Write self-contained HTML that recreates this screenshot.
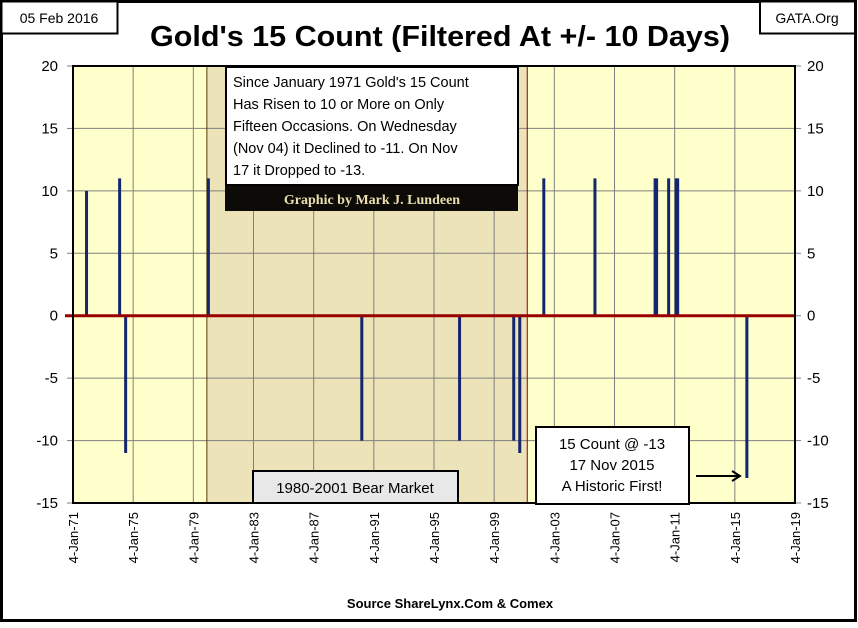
<!DOCTYPE html>
<html><head><meta charset="utf-8">
<style>
body{margin:0;background:#fff;}
svg text{font-family:"Liberation Sans",sans-serif;}
</style></head>
<body>
<svg id="chart" width="858" height="623" xmlns="http://www.w3.org/2000/svg">
<rect x="1.5" y="1.5" width="854" height="619" fill="#fff" stroke="#000" stroke-width="3"/>
<g id="plot"></g>
<rect x="1.5" y="1.5" width="116" height="32" fill="#fff" stroke="#000" stroke-width="2"/>
<text x="59" y="23" font-size="14" text-anchor="middle">05 Feb 2016</text>
<rect x="760" y="1.5" width="95" height="32" fill="#fff" stroke="#000" stroke-width="2"/>
<text x="807" y="23" font-size="14" text-anchor="middle">GATA.Org</text>
<text x="440" y="46" font-size="29" font-weight="bold" text-anchor="middle" textLength="580" lengthAdjust="spacingAndGlyphs">Gold's 15 Count (Filtered At +/- 10 Days)</text>
<text x="450" y="608" font-size="13" font-weight="bold" text-anchor="middle">Source ShareLynx.Com &amp; Comex</text>
</svg>
<script>
const tickLabels = ["4-Jan-71","4-Jan-75","4-Jan-79","4-Jan-83","4-Jan-87","4-Jan-91","4-Jan-95","4-Jan-99","4-Jan-03","4-Jan-07","4-Jan-11","4-Jan-15","4-Jan-19"];
const yTicks = [20,15,10,5,0,-5,-10,-15];
const spikeDates = [1971.9,1974.1,1974.5,1980.0,1990.2,1996.7,2000.3,2000.7,2002.3,2005.7,2009.7,2009.8,2010.6,2011.1,2011.2,2015.8];
const spikeValues = [10,11,-11,11,-10,-10,-10,-11,11,11,11,11,11,11,11,-13];
const bearStart = 1979.9, bearEnd = 2001.2;

const NS="http://www.w3.org/2000/svg";
const L=73,R=795,T=66,B=503;
const xMin=1971.0,xMax=2019.0,yMin=-15,yMax=20;
const xs=v=>L+(v-xMin)/(xMax-xMin)*(R-L);
const ys=v=>T+(yMax-v)/(yMax-yMin)*(B-T);
const g=document.getElementById('plot');
function mk(tag,a,parent){const e=document.createElementNS(NS,tag);for(const k in a)e.setAttribute(k,a[k]);(parent||g).appendChild(e);return e;}

let e;
e=mk('rect',{x:L,y:T,width:R-L,height:B-T,fill:'#ffffcc'});


e=mk('rect',{x:xs(bearStart),y:T,width:xs(bearEnd)-xs(bearStart),height:B-T,fill:'#ede3b8'});


tickLabels.forEach((t,i)=>{
  const yr=1971+4*i;const x=xs(yr);
  if(i>0&&i<tickLabels.length-1){
    e=mk('line',{x1:x,x2:x,y1:T,y2:B,stroke:'#808080','stroke-width':1});
    
    
  }
  e=mk('text',{x:0,y:0,'font-size':13,'text-anchor':'end',transform:`translate(${x+5},${B+9}) rotate(-90)`});
  e.textContent=t;
  
  
});
yTicks.forEach(v=>{
  const y=ys(v);
  if(v!==yMax&&v!==yMin&&v!==0){
    e=mk('line',{x1:L,x2:R,y1:y,y2:y,stroke:'#808080','stroke-width':1});
    
    
  }
  mk('line',{x1:L-6,x2:L,y1:y,y2:y,stroke:'#808080'});
  mk('line',{x1:R,x2:R+6,y1:y,y2:y,stroke:'#808080'});
  e=mk('text',{x:L-15,y:y+5,'font-size':15,'text-anchor':'end'});e.textContent=v;
  
  
  e=mk('text',{x:R+12,y:y+5,'font-size':15});e.textContent=v;
  
  
});
e=mk('line',{x1:xs(bearStart),x2:xs(bearStart),y1:T,y2:B,stroke:'#5a3a00','stroke-width':1});


e=mk('line',{x1:xs(bearEnd),x2:xs(bearEnd),y1:T,y2:B,stroke:'#8b0000','stroke-width':1});


spikeDates.forEach((d,i)=>{
  const x=xs(d);
  e=mk('line',{x1:x,x2:x,y1:ys(0),y2:ys(spikeValues[i]),stroke:'#13266e','stroke-width':3});
  
  
});
e=mk('line',{x1:L-8,x2:R,y1:ys(0),y2:ys(0),stroke:'#990000','stroke-width':3});


e=mk('rect',{x:L,y:T,width:R-L,height:B-T,fill:'none',stroke:'#000','stroke-width':2});



// annotation box
e=mk('rect',{x:226,y:67,width:292,height:118,fill:'#fff',stroke:'#000','stroke-width':2});


["Since January 1971 Gold's 15 Count","Has Risen to 10 or More on Only","Fifteen Occasions.  On Wednesday","(Nov 04) it Declined to -11.  On Nov","17 it Dropped to -13."].forEach((s,i)=>{
  e=mk('text',{x:233,y:87+i*22,'font-size':14.5});e.textContent=s;
  
  
});
e=mk('rect',{x:225,y:186,width:293,height:25,fill:'#0d0b08'});


e=mk('text',{x:372,y:204,'font-size':14,'font-weight':'bold','text-anchor':'middle',fill:'#eadfb0',style:'font-family:"Liberation Serif",serif'});
e.textContent='Graphic by Mark J. Lundeen';


e=mk('rect',{x:253,y:471,width:205,height:32,fill:'#e8e8e8',stroke:'#000','stroke-width':2});


e=mk('text',{x:355,y:493,'font-size':15,'text-anchor':'middle'});e.textContent='1980-2001 Bear Market';


e=mk('rect',{x:536,y:427,width:153,height:77,fill:'#fff',stroke:'#000','stroke-width':2});


["15 Count @ -13","17 Nov 2015","A Historic First!"].forEach((s,i)=>{
  e=mk('text',{x:612,y:449+i*21,'font-size':15,'text-anchor':'middle'});e.textContent=s;
  
  
});
e=mk('path',{d:'M696 476 H740 M732 471 L740 476 L732 481',stroke:'#000','stroke-width':2,fill:'none'});


</script>
</body></html>
